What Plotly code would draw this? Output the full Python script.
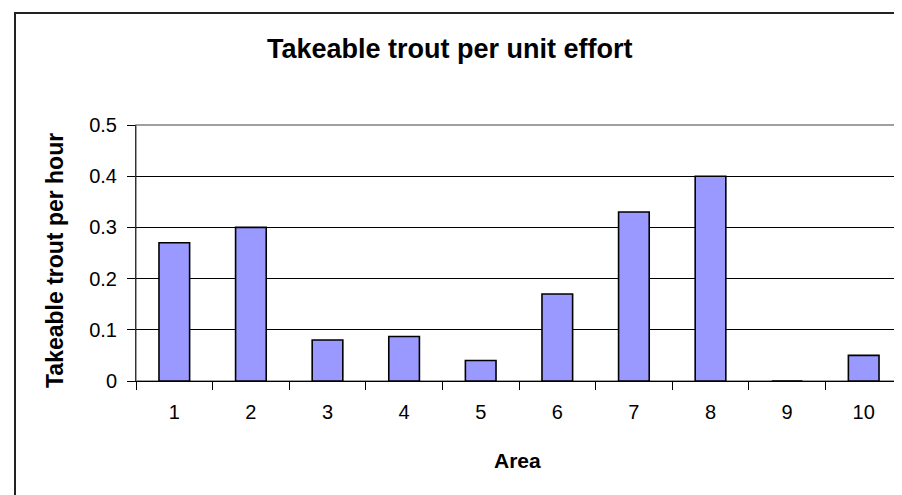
import plotly.graph_objects as go

areas = ["1", "2", "3", "4", "5", "6", "7", "8", "9", "10"]
trout_per_hour = [0.27, 0.30, 0.08, 0.087, 0.04, 0.17, 0.33, 0.40, 0.0, 0.05]
y_ticks = [0, 0.1, 0.2, 0.3, 0.4, 0.5]
y_tick_text = ["0", "0.1", "0.2", "0.3", "0.4", "0.5"]

title_text = "Takeable trout per unit effort"
y_title = "Takeable trout per hour"
x_title = "Area"

FONT = "Arial, 'Liberation Sans', sans-serif"

W, H = 902, 495
L, R, T, B = 128, 894, 117, 373
pw, ph = R - L, B - T

def px(x):
    return (x - L) / pw

def py(y):
    return (B - y) / ph

fig = go.Figure()
fig.add_trace(go.Bar(
    x=areas, y=trout_per_hour,
    marker=dict(color="#9999FF", line=dict(color="black", width=1.6)),
))

fig.update_layout(
    width=W, height=H,
    margin=dict(l=L, r=W - R, t=T, b=H - B, pad=0),
    paper_bgcolor="white", plot_bgcolor="white",
    showlegend=False,
    bargap=0.6,
    font=dict(family=FONT, color="black"),
    xaxis=dict(
        type="category",
        showgrid=False, zeroline=False,
        showline=True, linecolor="black", linewidth=1,
        ticks="outside", ticklen=8, tickcolor="black", tickwidth=1,
        tickson="boundaries",
        tickfont=dict(size=20, family=FONT),
        ticklabelstandoff=13,
    ),
    yaxis=dict(
        range=[0, 0.5],
        tickvals=y_ticks, ticktext=y_tick_text,
        showgrid=True, gridcolor="black", gridwidth=1,
        zeroline=False,
        showline=True, linecolor="#333333", linewidth=1,
        ticks="outside", ticklen=8, tickcolor="black", tickwidth=1,
        tickfont=dict(size=20, family=FONT),
        ticklabelstandoff=6,
    ),
    shapes=[
        dict(type="rect", xref="paper", yref="paper", x0=0, x1=1, y0=0, y1=1,
             line=dict(color="#808080", width=1.5), layer="below"),
        dict(type="rect", xref="paper", yref="paper",
             x0=px(7), x1=px(W + 20), y0=py(H + 20), y1=py(5),
             line=dict(color="#222222", width=2)),
    ],
    annotations=[
        dict(text="<b>%s</b>" % title_text, xref="paper", yref="paper",
             x=px(442), y=py(41), xanchor="center", yanchor="middle",
             showarrow=False, font=dict(size=27, family=FONT, color="black")),
        dict(text="<b>%s</b>" % y_title, xref="paper", yref="paper",
             x=px(47), y=py(253), xanchor="center", yanchor="middle",
             textangle=-90, showarrow=False,
             font=dict(size=23, family=FONT, color="black")),
        dict(text="<b>%s</b>" % x_title, xref="paper", yref="paper",
             x=px(509), y=py(452), xanchor="center", yanchor="middle",
             showarrow=False, font=dict(size=21, family=FONT, color="black")),
    ],
)

fig.write_html("out.html")
